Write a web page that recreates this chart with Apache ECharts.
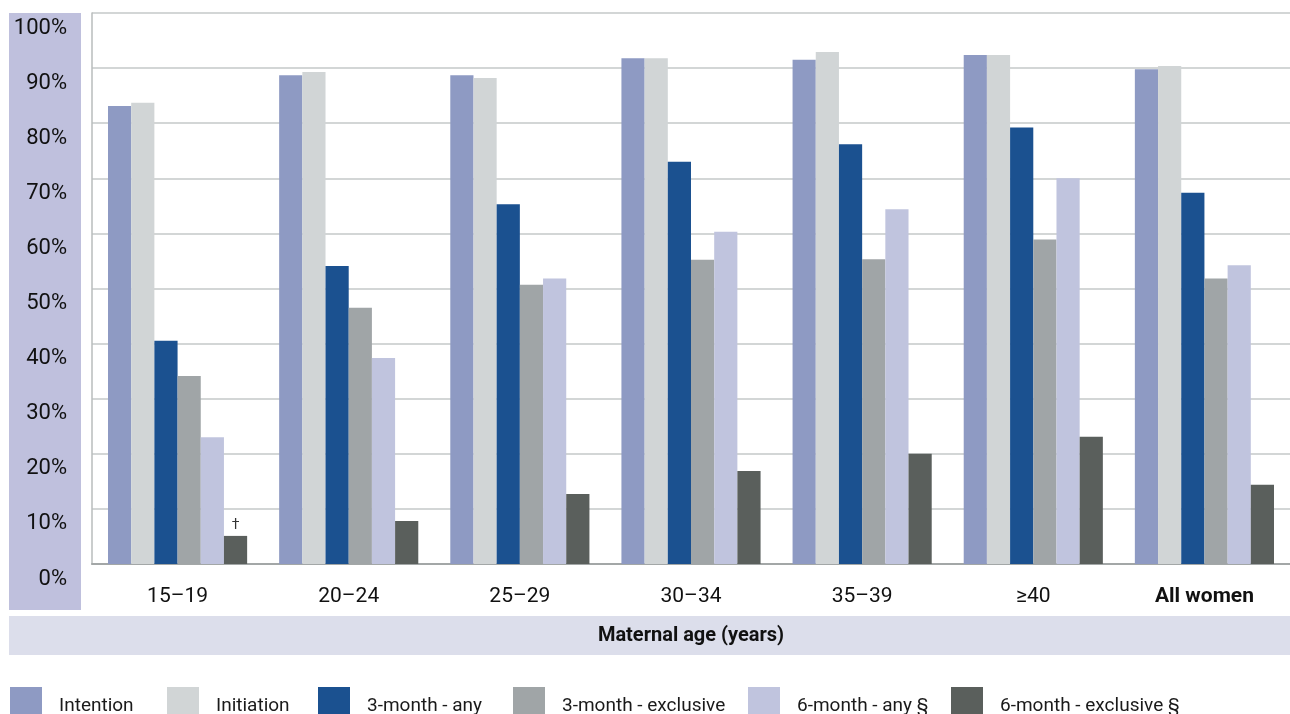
<!DOCTYPE html>
<html>
<head>
<meta charset="utf-8">
<style>
  html, body { margin: 0; padding: 0; background: #ffffff; }
  #chart { width: 1290px; height: 714px; }
</style>
<script src="https://cdn.jsdelivr.net/npm/echarts@6/dist/echarts.min.js"></script>
</head>
<body>
<div id="chart"></div>
<script>
const categories = ['15–19', '20–24', '25–29', '30–34', '35–39', '≥40', 'All women'];
const seriesNames = ['Intention', 'Initiation', '3-month - any', '3-month - exclusive', '6-month - any §', '6-month - exclusive §'];
const intention   = [83.1, 88.7, 88.7, 91.8, 91.5, 92.4, 89.8];
const initiation  = [83.7, 89.3, 88.2, 91.8, 92.9, 92.4, 90.4];
const threeAny    = [40.5, 54.1, 65.3, 73.0, 76.2, 79.2, 67.4];
const threeExcl   = [34.1, 46.5, 50.7, 55.2, 55.3, 58.9, 51.8];
const sixAny      = [23.0, 37.4, 51.8, 60.3, 64.4, 70.0, 54.2];
const sixExcl     = [5.1, 7.8, 12.7, 16.9, 20.0, 23.1, 14.4];
const sixExclNotes = ['†', '', '', '', '', '', ''];
const yTicks = [0, 10, 20, 30, 40, 50, 60, 70, 80, 90, 100];

const colors = ['#8e9ac3', '#d1d5d6', '#1b5190', '#a0a5a7', '#c0c4de', '#5a5f5c'];
const legendLefts = [5, 162, 313, 508, 743, 946];
const FONT = "Roboto, 'Liberation Sans', sans-serif";

const values = [intention, initiation, threeAny, threeExcl, sixAny, sixExcl];

const series = seriesNames.map((name, si) => ({
  name: name,
  type: 'bar',
  barGap: '0%',
  barCategoryGap: '18.7%',
  itemStyle: { color: colors[si] },
  data: values[si].map((v, i) => {
    if (si === 5 && sixExclNotes[i]) {
      return {
        value: v,
        label: {
          show: true, position: 'top', distance: 3,
          formatter: sixExclNotes[i],
          fontFamily: FONT, fontSize: 14, color: '#333'
        }
      };
    }
    return v;
  })
}));

const legends = seriesNames.map((name, i) => ({
  data: [name],
  left: legendLefts[i],
  top: 682,
  orient: 'horizontal',
  itemWidth: 32,
  itemHeight: 27,
  icon: 'rect',
  selectedMode: false,
  formatter: '{t|{name}}',
  textStyle: {
    fontFamily: FONT, fontSize: 19, color: '#1a1a1a', padding: [0, 0, 0, 12],
    rich: { t: { fontFamily: FONT, fontSize: 19, color: '#1a1a1a', padding: [12, 0, 0, 0] } }
  }
}));

const chart = echarts.init(document.getElementById('chart'), null, { renderer: 'canvas' });
chart.setOption({
  animation: false,
  backgroundColor: '#ffffff',
  color: colors,
  textStyle: { fontFamily: FONT },
  graphic: [
    { type: 'rect', z: -10, silent: true, shape: { x: 9, y: 13, width: 72, height: 597 }, style: { fill: '#bfc0dd' } },
    { type: 'rect', z: -10, silent: true, shape: { x: 9, y: 616, width: 1281, height: 39 }, style: { fill: '#dcdeeb' } }
  ],
  legend: legends,
  grid: { left: 92, right: 0, top: 13, bottom: 150, containLabel: false },
  xAxis: {
    type: 'category',
    data: categories,
    name: 'Maternal age (years)',
    nameLocation: 'middle',
    nameGap: 62,
    nameTextStyle: { fontFamily: FONT, fontSize: 20, fontWeight: 'bold', color: '#111' },
    axisLine: { show: true, lineStyle: { color: '#a3a7a7', width: 2 } },
    axisTick: { show: false },
    axisLabel: {
      interval: 0,
      margin: 22, fontFamily: FONT, fontSize: 21, color: '#111',
      formatter: function (v) { return v === 'All women' ? '{b|' + v + '}' : v; },
      rich: { b: { fontFamily: FONT, fontSize: 21, fontWeight: 'bold', color: '#111' } }
    },
    splitLine: { show: false }
  },
  yAxis: {
    type: 'value',
    min: yTicks[0],
    max: yTicks[yTicks.length - 1],
    interval: 10,
    axisLine: { show: true, lineStyle: { color: '#b8bcbc', width: 1.5 } },
    axisTick: { show: false },
    axisLabel: {
      margin: 25, fontFamily: FONT, fontSize: 22, color: '#111',
      formatter: '{value}%',
      verticalAlign: 'top',
      lineHeight: 30
    },
    splitLine: { show: true, lineStyle: { color: '#c5c9c9', width: 1.5 } }
  },
  series: series
});
</script>
</body>
</html>
